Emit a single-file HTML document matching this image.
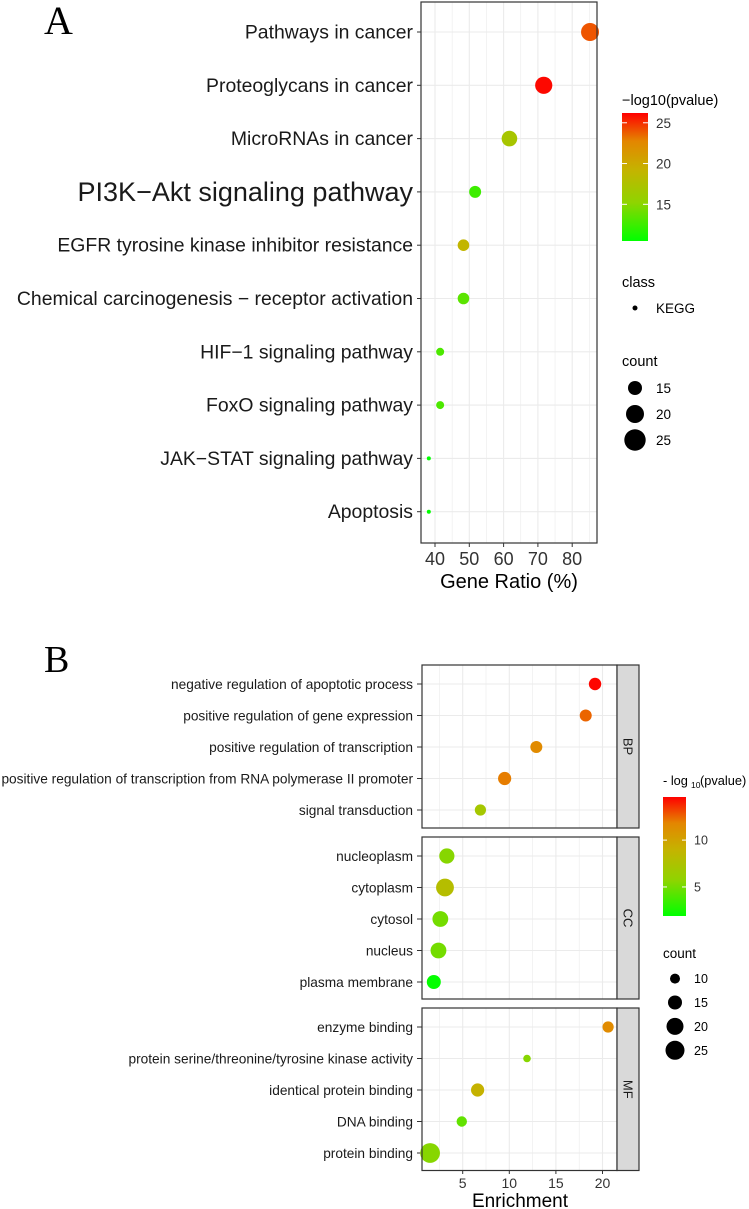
<!DOCTYPE html>
<html><head><meta charset="utf-8"><style>
html,body{margin:0;padding:0;background:#fff;}
svg{display:block;font-family:"Liberation Sans",Arial,sans-serif;}
</style></head><body>
<svg id="fig" width="749" height="1209" viewBox="0 0 749 1209" xmlns="http://www.w3.org/2000/svg">
<defs>
<linearGradient id="gA" x1="0" y1="1" x2="0" y2="0">
<stop offset="0" stop-color="#00ff00"/><stop offset="0.3" stop-color="#8fd400"/><stop offset="0.55" stop-color="#c4b400"/><stop offset="0.78" stop-color="#e48600"/><stop offset="1" stop-color="#ff0000"/>
</linearGradient>
</defs>
<text x="44" y="34" font-family="Liberation Serif,serif" font-size="40">A</text>
<text x="44" y="672" font-family="Liberation Serif,serif" font-size="38">B</text>
<g id="A"></g>
<g id="B"></g>
</svg>
<script>
// ---------- Panel A data ----------
const aTerms = ["Pathways in cancer","Proteoglycans in cancer","MicroRNAs in cancer","PI3K\u2212Akt signaling pathway","EGFR tyrosine kinase inhibitor resistance","Chemical carcinogenesis \u2212 receptor activation","HIF\u22121 signaling pathway","FoxO signaling pathway","JAK\u2212STAT signaling pathway","Apoptosis"];
const aRatio = [85.2,71.7,61.7,51.7,48.3,48.3,41.5,41.5,38.2,38.2];
const aCount = [20,19,17,12.5,12,12,7.5,7.5,2.5,2.5];
const aLogP = [24,26,17,12.5,19,13.5,13,13,10.5,10.5];
const aXTicks = [40,50,60,70,80];
const aColorTicks = [15,20,25];
const aSizeTicks = [15,20,25];
// ---------- Panel B data ----------
const bGroups = ["BP","CC","MF"];
const bTerms = [
 ["negative regulation of apoptotic process","positive regulation of gene expression","positive regulation of transcription","positive regulation of transcription from RNA polymerase II promoter","signal transduction"],
 ["nucleoplasm","cytoplasm","cytosol","nucleus","plasma membrane"],
 ["enzyme binding","protein serine/threonine/tyrosine kinase activity","identical protein binding","DNA binding","protein binding"]];
const bEnrich = [[19.2,18.2,12.9,9.5,6.9],[3.3,3.1,2.6,2.4,1.9],[20.6,11.9,6.6,4.9,1.5]];
const bCount = [[13,12.5,12.5,14,11.5],[17,22,18,18,15],[11.5,7,14,10.5,27]];
const bLogP = [[14.5,12.5,11.5,12,7],[5.5,8,5,5,2],[11.5,5.5,9,4.5,5.5]];
const bXTicks = [5,10,15,20];
const bColorTicks = [5,10];
const bSizeTicks = [10,15,20,25];

const NS="http://www.w3.org/2000/svg";
function mk(parent,tag,attrs,txt){const e=document.createElementNS(NS,tag);for(const k in attrs)e.setAttribute(k,attrs[k]);if(txt!==undefined)e.textContent=txt;parent.appendChild(e);return e;}
const stops=[[0,[0,255,0]],[0.3,[143,212,0]],[0.55,[196,180,0]],[0.78,[228,134,0]],[1,[255,0,0]]];
function col(t){t=Math.max(0,Math.min(1,t));for(let i=1;i<stops.length;i++){if(t<=stops[i][0]){const a=stops[i-1],b=stops[i];const f=(t-a[0])/(b[0]-a[0]);const c=a[1].map((v,j)=>Math.round(v+(b[1][j]-v)*f));return `rgb(${c.join(',')})`;}}return 'rgb(255,0,0)';}
function interp(pts,v){if(v<=pts[0][0]){const [x0,y0]=pts[0],[x1,y1]=pts[1];return Math.max(1.5,y0+(v-x0)*(y1-y0)/(x1-x0));}for(let i=1;i<pts.length;i++){if(v<=pts[i][0]){const [x0,y0]=pts[i-1],[x1,y1]=pts[i];return y0+(v-x0)*(y1-y0)/(x1-x0);}}const n=pts.length;const [x0,y0]=pts[n-2],[x1,y1]=pts[n-1];return y1+(v-x1)*(y1-y0)/(x1-x0);}

// ---------- Panel A ----------
(function(){
 const g=document.getElementById('A');
 const L=421,R=597,T=2,Bm=543;
 const xs=v=>435+(v-40)*3.43;
 const ys=i=>32+i*53.3;
 const cs=v=>(v-10.5)/(26.2-10.5);
 const rs=c=>interp([[15,7],[20,9],[25,10.7]],c);
 const panel=mk(g,'rect',{x:L,y:T,width:R-L,height:Bm-T,fill:'#fff'});
 
 
 for(let v=35;v<=85;v+=5){const x=xs(v);if(x<L||x>R)continue;mk(g,'line',{x1:x,x2:x,y1:T,y2:Bm,stroke:'#ebebeb','stroke-width':v%10===0?1.1:0.6});}
 aTerms.forEach((t,i)=>{mk(g,'line',{x1:L,x2:R,y1:ys(i),y2:ys(i),stroke:'#ebebeb','stroke-width':1.1});});
 aTerms.forEach((t,i)=>{
  const y=ys(i);
  const lab=mk(g,'text',{x:413,y:y+(i===3?9:6.5),'text-anchor':'end','font-size':i===3?27:19.4,fill:'#1a1a1a'},t);
  
  
  mk(g,'line',{x1:417,x2:L,y1:y,y2:y,stroke:'#333','stroke-width':1});
  const c=mk(g,'circle',{cx:xs(aRatio[i]),cy:y,r:rs(aCount[i]),fill:col(cs(aLogP[i]))});
  
  
 });
 mk(g,'rect',{x:L,y:T,width:R-L,height:Bm-T,fill:'none',stroke:'#333','stroke-width':1.2});
 aXTicks.forEach(v=>{const x=xs(v);mk(g,'line',{x1:x,x2:x,y1:Bm,y2:Bm+4,stroke:'#333'});
  const t=mk(g,'text',{x:x,y:Bm+22,'text-anchor':'middle','font-size':18,fill:'#333'},String(v));
  
  });
 const xt=mk(g,'text',{x:509,y:588,'text-anchor':'middle','font-size':20,fill:'#000'},'Gene Ratio (%)');
 
 
 const lt=mk(g,'text',{x:622,y:105,'font-size':14.5},'\u2212log10(pvalue)');
 
 
 const cb=mk(g,'rect',{x:622,y:113,width:26,height:128,fill:'url(#gA)'});
 
 
 const cbY=v=>241-(v-10.5)/(26.2-10.5)*128;
 aColorTicks.forEach(v=>{const y=cbY(v);mk(g,'line',{x1:622,x2:627,y1:y,y2:y,stroke:'#fff'});mk(g,'line',{x1:643,x2:648,y1:y,y2:y,stroke:'#fff'});
  const t=mk(g,'text',{x:656,y:y+5,'font-size':13.5,fill:'#333'},String(v));
  
  });
 const ct=mk(g,'text',{x:622,y:287,'font-size':14.5},'class');
 
 
 mk(g,'circle',{cx:635,cy:308,r:2.5,fill:'#000'});
 const kt=mk(g,'text',{x:656,y:313,'font-size':13.5},'KEGG');
 
 
 const st=mk(g,'text',{x:622,y:366,'font-size':14.5},'count');
 
 
 aSizeTicks.forEach((v,i)=>{const y=388+i*26;mk(g,'circle',{cx:635,cy:y,r:rs(v),fill:'#000'});
  const t=mk(g,'text',{x:656,y:y+5,'font-size':13.5},String(v));
  
  });
})();

// ---------- Panel B ----------
(function(){
 const g=document.getElementById('B');
 const L=422,R=617,SR=639;
 const tops=[665,837,1008],bots=[828,999,1170.5];
 const xs=v=>462.7+(v-5)*9.32;
 const cs=v=>(v-1.9)/(14.6-1.9);
 const rs=c=>interp([[10,5],[15,7],[20,8.5],[25,9.5]],c);
 bGroups.forEach((grp,gi)=>{
  const T=tops[gi],Bm=bots[gi];
  const p=mk(g,'rect',{x:L,y:T,width:R-L,height:Bm-T,fill:'#fff'});
  
  
  for(let v=2.5;v<=20;v+=2.5){const x=xs(v);mk(g,'line',{x1:x,x2:x,y1:T,y2:Bm,stroke:'#ebebeb','stroke-width':v%5===0?1.1:0.6});}
  bTerms[gi].forEach((t,i)=>{
   const y=T+19+i*31.5;
   mk(g,'line',{x1:L,x2:R,y1:y,y2:y,stroke:'#ebebeb','stroke-width':1.1});
   const lab=mk(g,'text',{x:413,y:y+5,'text-anchor':'end','font-size':13.7,fill:'#1a1a1a'},t);
   
   
   mk(g,'line',{x1:417,x2:L,y1:y,y2:y,stroke:'#333'});
   const c=mk(g,'circle',{cx:xs(bEnrich[gi][i]),cy:y,r:rs(bCount[gi][i]),fill:col(cs(bLogP[gi][i]))});
   
   
  });
  mk(g,'rect',{x:L,y:T,width:R-L,height:Bm-T,fill:'none',stroke:'#333','stroke-width':1.2});
  const s=mk(g,'rect',{x:R,y:T,width:SR-R,height:Bm-T,fill:'#d9d9d9',stroke:'#333','stroke-width':1.2});
  
  
  const cy=(T+Bm)/2;
  const st=mk(g,'text',{x:628,y:cy,'text-anchor':'middle','font-size':13,fill:'#1a1a1a',transform:`rotate(90 628 ${cy}) translate(0 4.5)`},grp);
  
  
 });
 bXTicks.forEach(v=>{const x=xs(v);mk(g,'line',{x1:x,x2:x,y1:1170.5,y2:1174,stroke:'#333'});
  const t=mk(g,'text',{x:x,y:1188,'text-anchor':'middle','font-size':14,fill:'#333'},String(v));
  
  });
 const xt=mk(g,'text',{x:520,y:1207,'text-anchor':'middle','font-size':19},'Enrichment');
 
 
 const lt=mk(g,'text',{x:663,y:785,'font-size':12.8},'- log');
 
 
 mk(g,'text',{x:691,y:788,'font-size':8.5},'10');
 mk(g,'text',{x:700,y:785,'font-size':12.8},'(pvalue)');
 const cb=mk(g,'rect',{x:663,y:797,width:23,height:119,fill:'url(#gA)'});
 
 
 const cbY=v=>916-(v-1.9)/(14.6-1.9)*119;
 bColorTicks.forEach(v=>{const y=cbY(v);mk(g,'line',{x1:663,x2:667,y1:y,y2:y,stroke:'#fff'});mk(g,'line',{x1:682,x2:686,y1:y,y2:y,stroke:'#fff'});
  const t=mk(g,'text',{x:694,y:y+4.5,'font-size':12.5,fill:'#333'},String(v));
  
  });
 const ct=mk(g,'text',{x:663,y:958,'font-size':13.5},'count');
 
 
 bSizeTicks.forEach((v,i)=>{const y=978.6+i*23.9;mk(g,'circle',{cx:675,cy:y,r:rs(v),fill:'#000'});
  const t=mk(g,'text',{x:694,y:y+4.5,'font-size':12.5},String(v));
  
  });
})();
</script>
</body></html>
